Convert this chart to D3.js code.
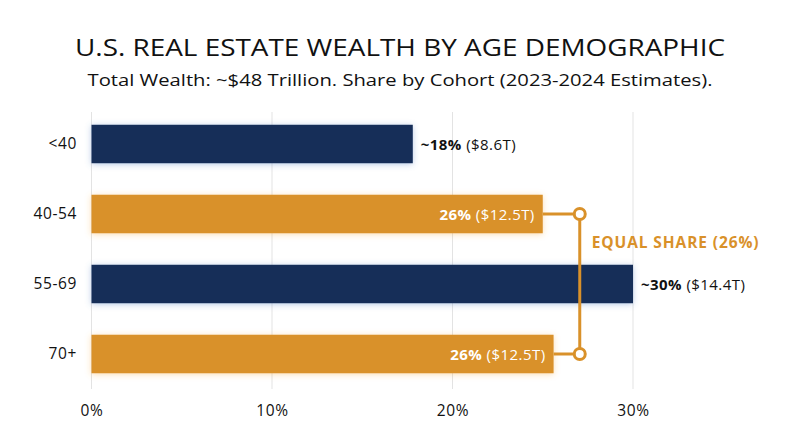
<!DOCTYPE html>
<html><head><meta charset="utf-8">
<script src="https://cdn.jsdelivr.net/npm/d3@7"></script>
<style>
html,body{margin:0;padding:0;background:#fff;}
svg{display:block;font-family:"Open Sans","Noto Sans",sans-serif;}
</style></head>
<body><svg id="chart" width="800" height="447"></svg>
<script>
const categories = ["<40", "40-54", "55-69", "70+"];
const shares = [17.8, 25.0, 30.0, 25.6];
const shareLabels = ["~18%", "26%", "~30%", "26%"];
const valueLabels = ["($8.6T)", "($12.5T)", "($14.4T)", "($12.5T)"];
const highlighted = [false, true, false, true];
const xTicks = [0, 10, 20, 30];
const titleText = "U.S. REAL ESTATE WEALTH BY AGE DEMOGRAPHIC";
const subtitleText = "Total Wealth: ~$48 Trillion. Share by Cohort (2023-2024 Estimates).";
const bracketText = "EQUAL SHARE (26%)";

const NAVY = "#122e58", ORANGE = "#d9912a";
const W = 800, H = 447;
const svg = d3.select("#chart");

const defs = svg.append("defs");
function glow(id, color){
  const f = defs.append("filter").attr("id", id).attr("x", "-10%").attr("y", "-50%").attr("width", "120%").attr("height", "200%");
  f.append("feDropShadow").attr("dx", 0).attr("dy", 1).attr("stdDeviation", 3).attr("flood-color", color).attr("flood-opacity", 0.4);
}
glow("glowN", "#4a78c0");
glow("glowO", "#f5a83a");

const x = d3.scaleLinear().domain([0, 30]).range([91.5, 633]);
const y = d3.scaleBand().domain(categories).range([109, 389]).paddingInner(0.45).paddingOuter(0.225);

const data = categories.map((c, i) => ({cat: c, v: shares[i], s: shareLabels[i], t: valueLabels[i], hi: highlighted[i]}));

// title
svg.append("text").attr("x", W/2).attr("y", 56).attr("text-anchor", "middle")
  .attr("font-size", 24).attr("fill", "#111").attr("font-weight", 500)
  .attr("textLength", 650).attr("lengthAdjust", "spacingAndGlyphs").text(titleText);
svg.append("text").attr("x", W/2).attr("y", 86).attr("text-anchor", "middle")
  .attr("font-size", 17).attr("fill", "#111")
  .attr("textLength", 625).attr("lengthAdjust", "spacingAndGlyphs").text(subtitleText);

// grid
const grid = svg.append("g");
grid.selectAll("line").data(xTicks).join("line")
  .attr("x1", d => x(d)).attr("x2", d => x(d)).attr("y1", 112).attr("y2", 389)
  .attr("stroke", "#e3e3e3").attr("stroke-width", 1);

// x axis
const xAxis = d3.axisBottom(x).tickValues(xTicks).tickFormat(d => d + "%").tickSize(0).tickPadding(0);
const gx = svg.append("g").attr("transform", "translate(0,405)").call(xAxis);
gx.select(".domain").remove();
gx.selectAll("text").attr("font-size", 15.5).attr("letter-spacing", 0.6).attr("fill", "#111").attr("font-family", "Open Sans, sans-serif");

// y axis
const yAxis = d3.axisLeft(y).tickSize(0).tickPadding(0);
const gy = svg.append("g").attr("transform", "translate(77,0)").call(yAxis);
gy.select(".domain").remove();
gy.selectAll("text").attr("font-size", 15.5).attr("letter-spacing", 0.6).attr("fill", "#111").attr("font-family", "Open Sans, sans-serif");

// bars
svg.append("g").selectAll("rect").data(data).join("rect")
  .attr("x", x(0)).attr("y", d => y(d.cat))
  .attr("width", d => x(d.v) - x(0)).attr("height", y.bandwidth())
  .attr("fill", d => d.hi ? ORANGE : NAVY)
  .attr("filter", d => d.hi ? "url(#glowO)" : "url(#glowN)");

// labels
const lab = svg.append("g").selectAll("text").data(data).join("text")
  .attr("x", d => d.hi ? x(d.v) - 8 : x(d.v) + 8)
  .attr("y", d => y(d.cat) + y.bandwidth()/2 + 5.5)
  .attr("text-anchor", d => d.hi ? "end" : "start")
  .attr("font-size", 15).attr("letter-spacing", 0.45)
  .attr("fill", d => d.hi ? "#fff" : "#111");
lab.append("tspan").attr("font-weight", 700).text(d => d.s);
lab.append("tspan").text(d => " " + d.t);

// bracket
const bx = x(27.05);
const hiData = data.filter(d => d.hi);
const br = svg.append("g").attr("stroke", ORANGE).attr("stroke-width", 3).attr("fill", "none");
br.selectAll("line.h").data(hiData).join("line").attr("class", "h")
  .attr("x1", d => x(d.v)).attr("x2", bx)
  .attr("y1", d => y(d.cat) + y.bandwidth()/2).attr("y2", d => y(d.cat) + y.bandwidth()/2);
const yTop = y(hiData[0].cat) + y.bandwidth()/2, yBot = y(hiData[1].cat) + y.bandwidth()/2;
br.append("line").attr("x1", bx).attr("x2", bx).attr("y1", yTop).attr("y2", yBot);
br.selectAll("circle").data(hiData).join("circle")
  .attr("cx", bx).attr("cy", d => y(d.cat) + y.bandwidth()/2).attr("r", 5.5).attr("fill", "#fff");

svg.append("text").attr("x", bx + 12).attr("y", yTop + 34)
  .attr("font-size", 15.5).attr("letter-spacing", 0.9).attr("font-weight", 700).attr("fill", ORANGE).text(bracketText);
</script></body></html>
